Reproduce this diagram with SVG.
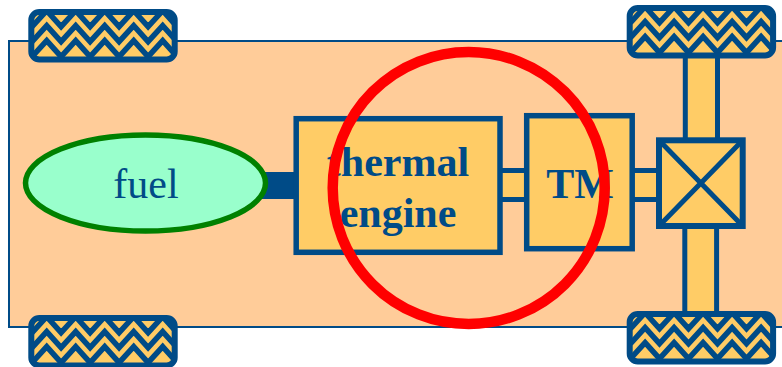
<svg xmlns="http://www.w3.org/2000/svg" width="782" height="367" viewBox="0 0 782 367">
<style>
.part{fill:#FFCC66;stroke:#004B87;stroke-width:5.5}
.lnk{stroke-width:5}
.lbl{font-family:"Liberation Serif","Times New Roman",serif;font-size:42px;fill:#004B87;text-anchor:middle}
.b{font-weight:bold}
.zig{fill:none;stroke:#004B87;stroke-width:5.5}
</style>
<defs>
<clipPath id="tyreClip"><rect x="0" y="0" width="143.400" height="47.400" rx="8"/></clipPath>
<polyline id="zig" class="zig" points="-13.600,44.700 1,28.700 15.400,44.700 30,28.700 44.400,44.700 59,28.700 73.400,44.700 88,28.700 102.400,44.700 117,28.700 131.400,44.700 146,28.700"/>
<g id="tyre">
<rect x="0" y="0" width="143.400" height="47.400" rx="8" fill="#FFCC66"/>
<g clip-path="url(#tyreClip)">
<use href="#zig" x="14.400" y="0"/>
<use href="#zig" x="14.400" y="-15"/>
<use href="#zig" x="14.400" y="-30"/>
</g>
<rect x="0" y="0" width="143.400" height="47.400" rx="8" fill="none" stroke="#004B87" stroke-width="6"/>
</g>
</defs>
<rect width="782" height="367" fill="#FFFFFF"/>
<rect id="chassis" x="9" y="41" width="790" height="286" fill="#FFCC99" stroke="#004B87" stroke-width="2"/>
<g id="connectors">
<rect x="262" y="172" width="34" height="27" fill="#004B87"/>
<rect class="part lnk" x="497" y="170.500" width="32" height="29"/>
<rect class="part lnk" x="630" y="170.500" width="30" height="29"/>
<rect class="part lnk" x="685.300" y="50" width="32.200" height="95"/>
<rect class="part lnk" x="684.800" y="222" width="31.800" height="95"/>
</g>
<g id="wheel-top-left"><use href="#tyre" x="31.300" y="12"/></g>
<g id="wheel-bottom-left"><use href="#tyre" x="31.300" y="318"/></g>
<g id="wheel-top-right"><use href="#tyre" x="629.700" y="8"/></g>
<g id="wheel-bottom-right"><use href="#tyre" x="629.700" y="314"/></g>
<g id="fuel">
<ellipse cx="145.500" cy="183" rx="120" ry="48" fill="#99FFCC" stroke="#008000" stroke-width="5.500"/>
<text class="lbl" x="146" y="198">fuel</text>
</g>
<g id="engine">
<rect class="part" x="296.200" y="118.700" width="203.800" height="133.600"/>
<text class="lbl b" x="398" y="176">thermal</text>
<text class="lbl b" x="398" y="227">engine</text>
</g>
<g id="tm">
<rect class="part" x="526.700" y="115.700" width="105.500" height="133"/>
<text class="lbl b" x="580" y="198">TM</text>
</g>
<g id="differential">
<rect class="part" style="stroke-width:6" x="659" y="140.300" width="83.700" height="85.700"/>
<path d="M659 140.300L742.700 226M742.700 140.300L659 226" fill="none" stroke="#004B87" stroke-width="5"/>
</g>
<circle id="highlight" cx="468.700" cy="188" r="136" fill="none" stroke="#FF0000" stroke-width="10.500"/>
</svg>
